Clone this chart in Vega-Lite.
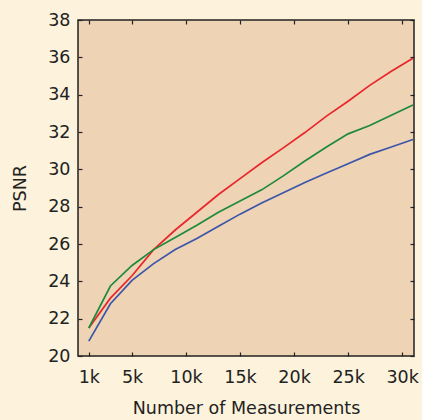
{
  "$schema": "https://vega.github.io/schema/vega-lite/v6.json",
  "autosize": {"type": "none"},
  "padding": {"left": 78, "top": 20, "right": 8, "bottom": 64},
  "width": 336,
  "height": 336,
  "background": "#fdf3dc",
  "config": {
    "font": "DejaVu Sans",
    "view": {"fill": "#efd3b5", "stroke": "#222222", "strokeWidth": 1.5},
    "axis": {
      "domain": false,
      "grid": false,
      "ticks": true,
      "tickSize": -4,
      "tickColor": "#222222",
      "tickWidth": 1.2,
      "labelFont": "DejaVu Sans",
      "labelFontSize": 17.5,
      "labelColor": "#222222",
      "titleFont": "DejaVu Sans",
      "titleFontSize": 17.5,
      "titleFontWeight": "normal",
      "titleColor": "#222222"
    }
  },
  "data": {
    "values": [
      {"m": 1000, "s": "A", "psnr": 21.5},
      {"m": 3000, "s": "A", "psnr": 23.1},
      {"m": 5000, "s": "A", "psnr": 24.3},
      {"m": 7000, "s": "A", "psnr": 25.7},
      {"m": 9000, "s": "A", "psnr": 26.75},
      {"m": 11000, "s": "A", "psnr": 27.7},
      {"m": 13000, "s": "A", "psnr": 28.65},
      {"m": 15000, "s": "A", "psnr": 29.5},
      {"m": 17000, "s": "A", "psnr": 30.35},
      {"m": 19000, "s": "A", "psnr": 31.15},
      {"m": 21000, "s": "A", "psnr": 31.97},
      {"m": 23000, "s": "A", "psnr": 32.85},
      {"m": 25000, "s": "A", "psnr": 33.65},
      {"m": 27000, "s": "A", "psnr": 34.5},
      {"m": 29000, "s": "A", "psnr": 35.25},
      {"m": 31000, "s": "A", "psnr": 35.95},
      {"m": 1000, "s": "B", "psnr": 21.5},
      {"m": 3000, "s": "B", "psnr": 23.75},
      {"m": 5000, "s": "B", "psnr": 24.85},
      {"m": 7000, "s": "B", "psnr": 25.7},
      {"m": 9000, "s": "B", "psnr": 26.35},
      {"m": 11000, "s": "B", "psnr": 27.0},
      {"m": 13000, "s": "B", "psnr": 27.7},
      {"m": 15000, "s": "B", "psnr": 28.3},
      {"m": 17000, "s": "B", "psnr": 28.9},
      {"m": 19000, "s": "B", "psnr": 29.65},
      {"m": 21000, "s": "B", "psnr": 30.45},
      {"m": 23000, "s": "B", "psnr": 31.2},
      {"m": 25000, "s": "B", "psnr": 31.9},
      {"m": 27000, "s": "B", "psnr": 32.35},
      {"m": 29000, "s": "B", "psnr": 32.9},
      {"m": 31000, "s": "B", "psnr": 33.45},
      {"m": 1000, "s": "C", "psnr": 20.8},
      {"m": 3000, "s": "C", "psnr": 22.8},
      {"m": 5000, "s": "C", "psnr": 24.05},
      {"m": 7000, "s": "C", "psnr": 24.95},
      {"m": 9000, "s": "C", "psnr": 25.7},
      {"m": 11000, "s": "C", "psnr": 26.3},
      {"m": 13000, "s": "C", "psnr": 26.95},
      {"m": 15000, "s": "C", "psnr": 27.6},
      {"m": 17000, "s": "C", "psnr": 28.2},
      {"m": 19000, "s": "C", "psnr": 28.75},
      {"m": 21000, "s": "C", "psnr": 29.3},
      {"m": 23000, "s": "C", "psnr": 29.8},
      {"m": 25000, "s": "C", "psnr": 30.3},
      {"m": 27000, "s": "C", "psnr": 30.8},
      {"m": 29000, "s": "C", "psnr": 31.2},
      {"m": 31000, "s": "C", "psnr": 31.6}
    ]
  },
  "resolve": {"axis": {"x": "independent", "y": "independent"}},
  "layer": [
    {
      "mark": {"type": "line", "strokeWidth": 1.7, "clip": true},
      "encoding": {
        "x": {
          "field": "m", "type": "quantitative",
          "scale": {"domain": [0, 31100], "nice": false, "zero": false},
          "axis": {
            "orient": "bottom",
            "values": [1000, 5000, 10000, 15000, 20000, 25000, 30000],
            "labelExpr": "datum.value / 1000 + 'k'",
            "labelPadding": 16,
            "title": "Number of Measurements",
            "titlePadding": 14
          }
        },
        "y": {
          "field": "psnr", "type": "quantitative",
          "scale": {"domain": [20, 38], "nice": false, "zero": false},
          "axis": {
            "orient": "left",
            "values": [20, 22, 24, 26, 28, 30, 32, 34, 36, 38],
            "labelPadding": 12,
            "title": "PSNR",
            "titleX": -49,
            "titleY": 168
          }
        },
        "color": {
          "field": "s", "type": "nominal",
          "scale": {"domain": ["A", "B", "C"], "range": ["#e8262b", "#1d8a3c", "#3b55a9"]},
          "legend": null
        }
      }
    },
    {
      "mark": {"type": "line", "opacity": 0},
      "encoding": {
        "x": {
          "field": "m", "type": "quantitative",
          "axis": {
            "orient": "top",
            "values": [1000, 5000, 10000, 15000, 20000, 25000, 30000],
            "labels": false,
            "title": null
          }
        },
        "y": {
          "field": "psnr", "type": "quantitative",
          "axis": {
            "orient": "right",
            "values": [20, 22, 24, 26, 28, 30, 32, 34, 36, 38],
            "labels": false,
            "title": null
          }
        },
        "detail": {"field": "s", "type": "nominal"}
      }
    }
  ]
}
